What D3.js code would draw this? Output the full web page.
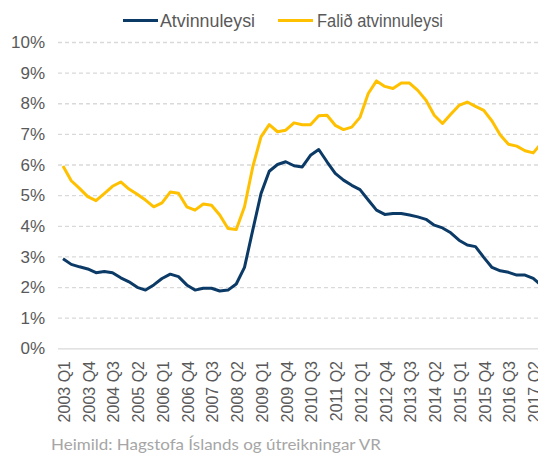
<!DOCTYPE html>
<meta charset="utf-8">
<title>Atvinnuleysi</title>
<style>
body { margin: 0; background: #fff; }
text { font-family: "Liberation Sans", Arial, sans-serif; fill: #595959; }
.source { font-family: Lato, "Open Sans", sans-serif; fill: #a6a6a6; }
</style>
<body>
<script src="https://d3js.org/d3.v7.min.js"></script>
<script>

let quarters = [
  "2003 Q1","2003 Q2","2003 Q3","2003 Q4","2004 Q1","2004 Q2","2004 Q3","2004 Q4",
  "2005 Q1","2005 Q2","2005 Q3","2005 Q4","2006 Q1","2006 Q2","2006 Q3","2006 Q4",
  "2007 Q1","2007 Q2","2007 Q3","2007 Q4","2008 Q1","2008 Q2","2008 Q3","2008 Q4",
  "2009 Q1","2009 Q2","2009 Q3","2009 Q4","2010 Q1","2010 Q2","2010 Q3","2010 Q4",
  "2011 Q1","2011 Q2","2011 Q3","2011 Q4","2012 Q1","2012 Q2","2012 Q3","2012 Q4",
  "2013 Q1","2013 Q2","2013 Q3","2013 Q4","2014 Q1","2014 Q2","2014 Q3","2014 Q4",
  "2015 Q1","2015 Q2","2015 Q3","2015 Q4","2016 Q1","2016 Q2","2016 Q3","2016 Q4",
  "2017 Q1","2017 Q2","2017 Q3"
];

// Atvinnuleysi (%)
let unemployment = [
  2.92, 2.74, 2.66, 2.59, 2.47, 2.51, 2.47, 2.30, 2.17, 1.99, 1.90, 2.07, 2.28, 2.42, 2.34,
  2.07, 1.90, 1.96, 1.96, 1.87, 1.90, 2.10, 2.64, 3.86, 5.05, 5.78, 6.00, 6.09, 5.96, 5.92,
  6.30, 6.49, 6.09, 5.71, 5.49, 5.32, 5.18, 4.84, 4.51, 4.37, 4.40, 4.40, 4.35, 4.29, 4.21,
  4.02, 3.93, 3.77, 3.53, 3.37, 3.32, 2.97, 2.64, 2.53, 2.48, 2.39, 2.39, 2.28, 2.05
];

// Falið atvinnuleysi (%)
let hidden = [
  5.95, 5.47, 5.22, 4.95, 4.82, 5.05, 5.29, 5.43, 5.20, 5.03, 4.84, 4.62, 4.75, 5.10, 5.06,
  4.62, 4.51, 4.71, 4.67, 4.35, 3.91, 3.88, 4.62, 5.92, 6.90, 7.30, 7.07, 7.12, 7.36, 7.30,
  7.30, 7.59, 7.61, 7.28, 7.14, 7.22, 7.54, 8.32, 8.73, 8.55, 8.48, 8.66, 8.66, 8.42, 8.10,
  7.61, 7.34, 7.64, 7.93, 8.04, 7.90, 7.77, 7.42, 6.96, 6.66, 6.60, 6.45, 6.38, 6.70
];

let yTicks = [0, 1, 2, 3, 4, 5, 6, 7, 8, 9, 10];

let series = [
  { name: "Atvinnuleysi", values: unemployment, color: "#0b3a66" },
  { name: "Falið atvinnuleysi", values: hidden, color: "#ffc000" }
];

let width = 538;
let height = 454;
let plotLeft = 58;

let x = d3.scalePoint().domain(quarters).range([63, 63 + 8.25 * (quarters.length - 1)]);
let y = d3.scaleLinear().domain([0, 10]).range([348.3, 42]);

let svg = d3.select('body').append('svg')
    .attr('width', width)
    .attr('height', height);

// gridlines
svg.append('g').selectAll('line')
    .data(yTicks)
    .enter().append('line')
        .attr('x1', plotLeft)
        .attr('x2', width)
        .attr('y1', d => y(d) + 0.5)
        .attr('y2', d => y(d) + 0.5)
        .attr('stroke', '#d9d9d9')
        .attr('stroke-width', 1.3)
        .attr('stroke-dasharray', d => d === 0 ? null : '4,3');

// y labels
svg.append('g').selectAll('text')
    .data(yTicks)
    .enter().append('text')
        .attr('x', 45)
        .attr('y', d => y(d))
        .attr('dy', '0.36em')
        .attr('text-anchor', 'end')
        .style('font-size', '17px')
        .text(d => d + '%');

// x labels every 3rd quarter
svg.append('g').selectAll('text')
    .data(quarters.filter((d, i) => i % 3 === 0))
    .enter().append('text')
        .attr('transform', d => `translate(${x(d) + 1},361)rotate(-90)`)
        .attr('dy', '0.36em')
        .attr('text-anchor', 'end')
        .style('font-size', '16px')
        .text(d => d);

let line = d3.line()
    .x((d, i) => x(quarters[i]))
    .y(d => y(d));

svg.append('g').selectAll('path')
    .data(series)
    .enter().append('path')
        .attr('d', d => line(d.values))
        .attr('fill', 'none')
        .attr('stroke', d => d.color)
        .attr('stroke-width', 3)
        .attr('stroke-linejoin', 'round');

// legend
let legendX = [123, 278];
let legendW = [95, 126];
let legend = svg.append('g').selectAll('g')
    .data(series)
    .enter().append('g')
        .attr('transform', (d, i) => `translate(${legendX[i]},20.5)`);
legend.append('line')
    .attr('x1', 0).attr('x2', 35)
    .attr('stroke', d => d.color)
    .attr('stroke-width', 3);
legend.append('text')
    .attr('x', (d, i) => i === 0 ? 37 : 39)
    .attr('dy', '0.36em')
    .attr('textLength', (d, i) => legendW[i])
    .attr('lengthAdjust', 'spacingAndGlyphs')
    .style('font-size', '17.5px')
    .text(d => d.name);

svg.append('text')
    .attr('class', 'source')
    .attr('x', 51)
    .attr('y', 450)
    .attr('textLength', 330)
    .attr('lengthAdjust', 'spacingAndGlyphs')
    .style('font-size', '16px')
    .text('Heimild: Hagstofa Íslands og útreikningar VR');

</script>
</body>
